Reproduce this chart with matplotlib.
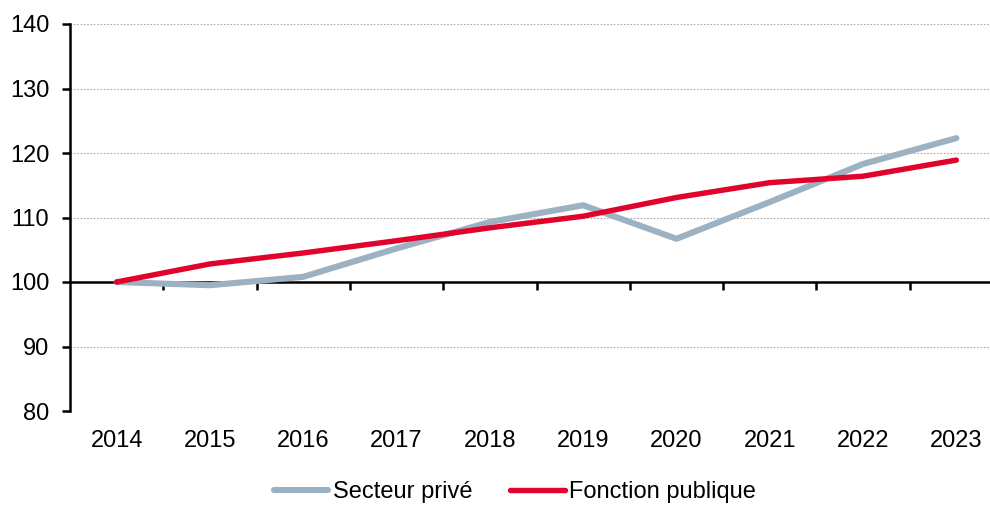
import matplotlib
matplotlib.use("Agg")
import matplotlib.pyplot as plt
import numpy as np

years = ["2014", "2015", "2016", "2017", "2018", "2019", "2020", "2021", "2022", "2023"]
prive = [100.0, 99.5, 100.8, 105.2, 109.3, 111.9, 106.7, 112.4, 118.3, 122.3]
publique = [100.0, 102.8, 104.5, 106.4, 108.4, 110.2, 113.1, 115.4, 116.4, 118.9]
yticks = [80, 90, 100, 110, 120, 130, 140]

plt.rcParams['font.family'] = ['Liberation Sans', 'DejaVu Sans']
FS = 17

W, H = 990, 505
fig = plt.figure(figsize=(W / 100, H / 100), dpi=100)
ax = fig.add_axes([70 / W, 1 - 411 / H, (1003 - 70) / W, (411 - 24) / H])

x = np.arange(len(years))
ax.plot(x, prive, color='#9CB1C2', lw=4.4, solid_capstyle='round', label='Secteur privé', zorder=3)
ax.plot(x, publique, color='#E2032C', lw=3.9, solid_capstyle='round', label='Fonction publique', zorder=4)

ax.set_xlim(-0.5, len(years) - 0.5)
ax.set_ylim(80, 140)
ax.set_yticks(yticks)
ax.set_yticklabels([str(v) for v in yticks], fontsize=FS)
for v in yticks:
    if v != 100:
        ax.axhline(v, color='#AAAAAA', lw=0.8, ls=(0, (1.5, 1.5)), zorder=1)

ax.spines['top'].set_visible(False)
ax.spines['right'].set_visible(False)
ax.spines['left'].set_linewidth(1.8)
ax.spines['bottom'].set_position(('data', 100))
ax.spines['bottom'].set_linewidth(1.8)
ax.spines['bottom'].set_zorder(2)
ax.tick_params(axis='y', direction='out', length=6, width=1.8, pad=9)

ax.set_xticks([])
ax.set_xticks(np.arange(0.5, len(years) - 0.5, 1.0), minor=True)
ax.tick_params(axis='x', which='minor', direction='out', length=6, width=1.8)
ax.tick_params(axis='x', which='major', length=0, labelbottom=False)

sec = ax.secondary_xaxis('bottom')
sec.set_xticks(x)
sec.set_xticklabels(years, fontsize=FS)
sec.tick_params(length=0, pad=14)
sec.spines['bottom'].set_visible(False)

leg = fig.legend(loc='center', bbox_to_anchor=(515 / W, 1 - 492 / H), ncol=2, frameon=False,
                 fontsize=FS, handlelength=2.3, handletextpad=0.2, columnspacing=1.6)

fig.savefig('out.png', dpi=100)
